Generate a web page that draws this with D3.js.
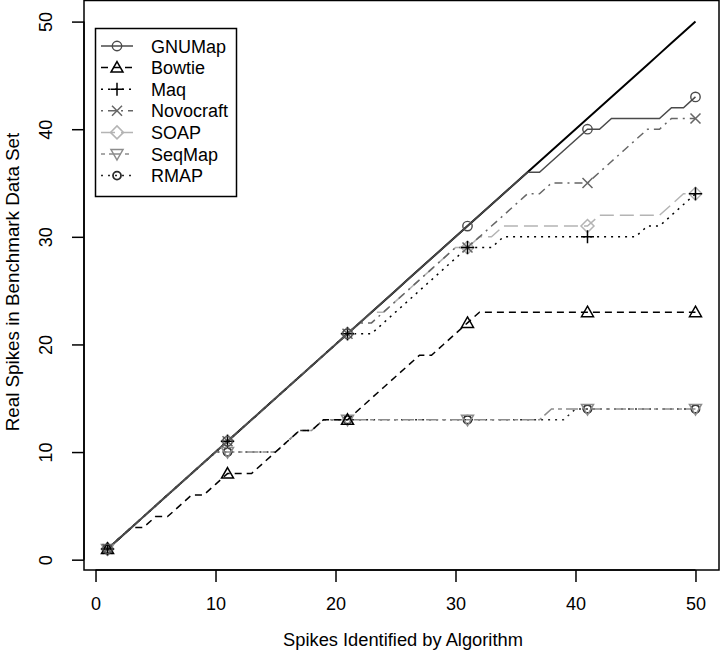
<!DOCTYPE html>
<html><head><meta charset="utf-8">
<script src="https://cdn.jsdelivr.net/npm/d3@7"></script>
<style>
body{margin:0;background:#fff;}
text{font-family:"Liberation Sans",Arial,Helvetica,sans-serif;}
</style></head>
<body>
<svg id="chart" width="720" height="658"></svg>
<script>
const xValues = d3.range(1, 51);
const markerX = [1, 11, 21, 31, 41, 50];
const xTicks = [0, 10, 20, 30, 40, 50];
const yTicks = [0, 10, 20, 30, 40, 50];
const seriesNames = ["GNUMap", "Bowtie", "Maq", "Novocraft", "SOAP", "SeqMap", "RMAP"];

const ideal = d3.range(1, 51);
const gnumap = [1,2,3,4,5,6,7,8,9,10,11,12,13,14,15,16,17,18,19,20,21,22,23,24,25,26,27,28,29,30,31,32,33,34,35,36,
  36,37,38,39,40,40,41,41,41,41,41,42,42,43];
const bowtie = [1,2,3,3,4,4,5,6,6,7,8,8,8,9,10,11,12,12,13,13,13,14,15,16,17,18,19,19,20,21,22,23,
  23,23,23,23,23,23,23,23,23,23,23,23,23,23,23,23,23,23];
const maq = [1,2,3,4,5,6,7,8,9,10,11,12,13,14,15,16,17,18,19,20,21,21,21,22,23,24,25,26,27,28,29,29,29,30,
  30,30,30,30,30,30,30,30,30,30,30,31,31,32,33,34];
const novocraft = [1,2,3,4,5,6,7,8,9,10,11,12,13,14,15,16,17,18,19,20,21,22,22,23,24,25,26,27,28,29,29,30,31,32,33,34,
  34,35,35,35,35,36,37,38,39,40,40,41,41,41];
const soap = [1,2,3,4,5,6,7,8,9,10,11,12,13,14,15,16,17,18,19,20,21,22,23,23,24,25,26,27,28,29,29,30,30,31,
  31,31,31,31,31,31,31,32,32,32,32,32,32,33,34,34];
const seqmap = [1,2,3,4,5,6,7,8,9,10,10,10,10,10,10,11,12,12,13,13,13,13,13,13,13,13,13,13,13,13,13,13,13,13,13,13,13,
  14,14,14,14,14,14,14,14,14,14,14,14,14];
const rmap = [1,2,3,4,5,6,7,8,9,10,10,10,10,10,10,11,12,12,13,13,13,13,13,13,13,13,13,13,13,13,13,13,13,13,13,13,13,
  13,13,14,14,14,14,14,14,14,14,14,14,14];

const seriesValues = [gnumap, bowtie, maq, novocraft, soap, seqmap, rmap];
const seriesColors = ["#4a4a4a", "#000000", "#000000", "#666666", "#b4b4b4", "#8c8c8c", "#2a2a2a"];
const seriesDash = [null, "7,5", "2,5", "2,5,8,5", "14,6", "4,4,12,4", "2,5"];
const seriesShape = ["circle", "triangle", "plus", "cross", "diamond", "triangleDown", "circleSmall"];

const svg = d3.select("#chart");
const x = d3.scaleLinear().domain([-0.96, 51.96]).range([84, 719]);
const y = d3.scaleLinear().domain([-0.96, 51.96]).range([570, 0.5]);

function drawMarker(g, shape, cx, cy, color) {
  const s = 5;
  if (shape === "circle") {
    g.append("circle").attr("cx", cx).attr("cy", cy).attr("r", 4.7).attr("fill", "none").attr("stroke", color).attr("stroke-width", 1.4);
  } else if (shape === "circleSmall") {
    g.append("circle").attr("cx", cx).attr("cy", cy).attr("r", 4).attr("fill", "none").attr("stroke", color).attr("stroke-width", 1.8);
  } else if (shape === "triangle") {
    g.append("path").attr("d", `M${cx},${cy-6}L${cx+6},${cy+4.5}L${cx-6},${cy+4.5}Z`).attr("fill", "none").attr("stroke", color).attr("stroke-width", 1.5);
  } else if (shape === "triangleDown") {
    g.append("path").attr("d", `M${cx},${cy+6}L${cx+6},${cy-4.5}L${cx-6},${cy-4.5}Z`).attr("fill", "none").attr("stroke", color).attr("stroke-width", 1.5);
  } else if (shape === "plus") {
    g.append("path").attr("d", `M${cx-6.5},${cy}H${cx+6.5}M${cx},${cy-6.5}V${cy+6.5}`).attr("stroke", color).attr("stroke-width", 1.5);
  } else if (shape === "cross") {
    g.append("path").attr("d", `M${cx-s},${cy-s}L${cx+s},${cy+s}M${cx-s},${cy+s}L${cx+s},${cy-s}`).attr("stroke", color).attr("stroke-width", 1.5);
  } else if (shape === "diamond") {
    g.append("path").attr("d", `M${cx},${cy-6.5}L${cx+6.5},${cy}L${cx},${cy+6.5}L${cx-6.5},${cy}Z`).attr("fill", "none").attr("stroke", color).attr("stroke-width", 1.5);
  }
}

const line = d3.line().x((d, i) => x(xValues[i])).y(d => y(d));

// ideal line
svg.append("path").datum(ideal).attr("d", line).attr("fill", "none").attr("stroke", "#000").attr("stroke-width", 2);

const order = [6, 5, 4, 3, 2, 1, 0];
order.forEach(k => {
  svg.append("path").datum(seriesValues[k]).attr("d", line)
    .attr("fill", "none").attr("stroke", seriesColors[k]).attr("stroke-width", 1.5)
    .attr("stroke-dasharray", seriesDash[k]);
});
order.forEach(k => {
  const g = svg.append("g");
  markerX.forEach(mx => {
    drawMarker(g, seriesShape[k], x(mx), y(seriesValues[k][mx - 1]), seriesColors[k]);
  });
});

// box
svg.append("rect").attr("x", 84).attr("y", 0.5).attr("width", 635).attr("height", 569.5)
  .attr("fill", "none").attr("stroke", "#000").attr("stroke-width", 1.5);

// axes
const xAxis = svg.append("g").attr("transform", "translate(0,570)")
  .call(d3.axisBottom(x).tickValues(xTicks).tickSize(12).tickPadding(15).tickFormat(d3.format("d")));
xAxis.select(".domain").attr("d", `M${x(0)},0H${x(50)}`).attr("stroke-width", 1.5);
xAxis.selectAll(".tick line").attr("stroke-width", 1.5);
xAxis.selectAll("text").attr("font-size", 18).attr("fill", "#000");

const yAxis = svg.append("g").attr("transform", "translate(84,0)")
  .call(d3.axisLeft(y).tickValues(yTicks).tickSize(12).tickFormat(d3.format("d")));
yAxis.select(".domain").attr("d", `M0,${y(0)}V${y(50)}`).attr("stroke-width", 1.5);
yAxis.selectAll(".tick line").attr("stroke-width", 1.5);
yAxis.selectAll("text").attr("x", null).attr("dy", null)
  .attr("transform", "translate(-32,0) rotate(-90)")
  .attr("text-anchor", "middle").attr("font-size", 18).attr("fill", "#000");

// titles
svg.append("text").attr("x", 403).attr("y", 646).attr("text-anchor", "middle").attr("font-size", 18.3)
  .text("Spikes Identified by Algorithm");
svg.append("text").attr("transform", "translate(19,282) rotate(-90)").attr("text-anchor", "middle").attr("font-size", 18.8)
  .text("Real Spikes in Benchmark Data Set");

// legend
const leg = svg.append("g");
leg.append("rect").attr("x", 95.5).attr("y", 28.5).attr("width", 141).attr("height", 168)
  .attr("fill", "#fff").attr("stroke", "#000").attr("stroke-width", 1.5);
seriesNames.forEach((name, k) => {
  const ry = 46 + k * 21.6;
  leg.append("line").attr("x1", 101).attr("x2", 133).attr("y1", ry).attr("y2", ry)
    .attr("stroke", seriesColors[k]).attr("stroke-width", 1.5).attr("stroke-dasharray", seriesDash[k]);
  drawMarker(leg, seriesShape[k], 117, ry, seriesColors[k]);
  leg.append("text").attr("x", 151).attr("y", ry + 6.5).attr("font-size", 18).text(name);
});
</script>
</body></html>
